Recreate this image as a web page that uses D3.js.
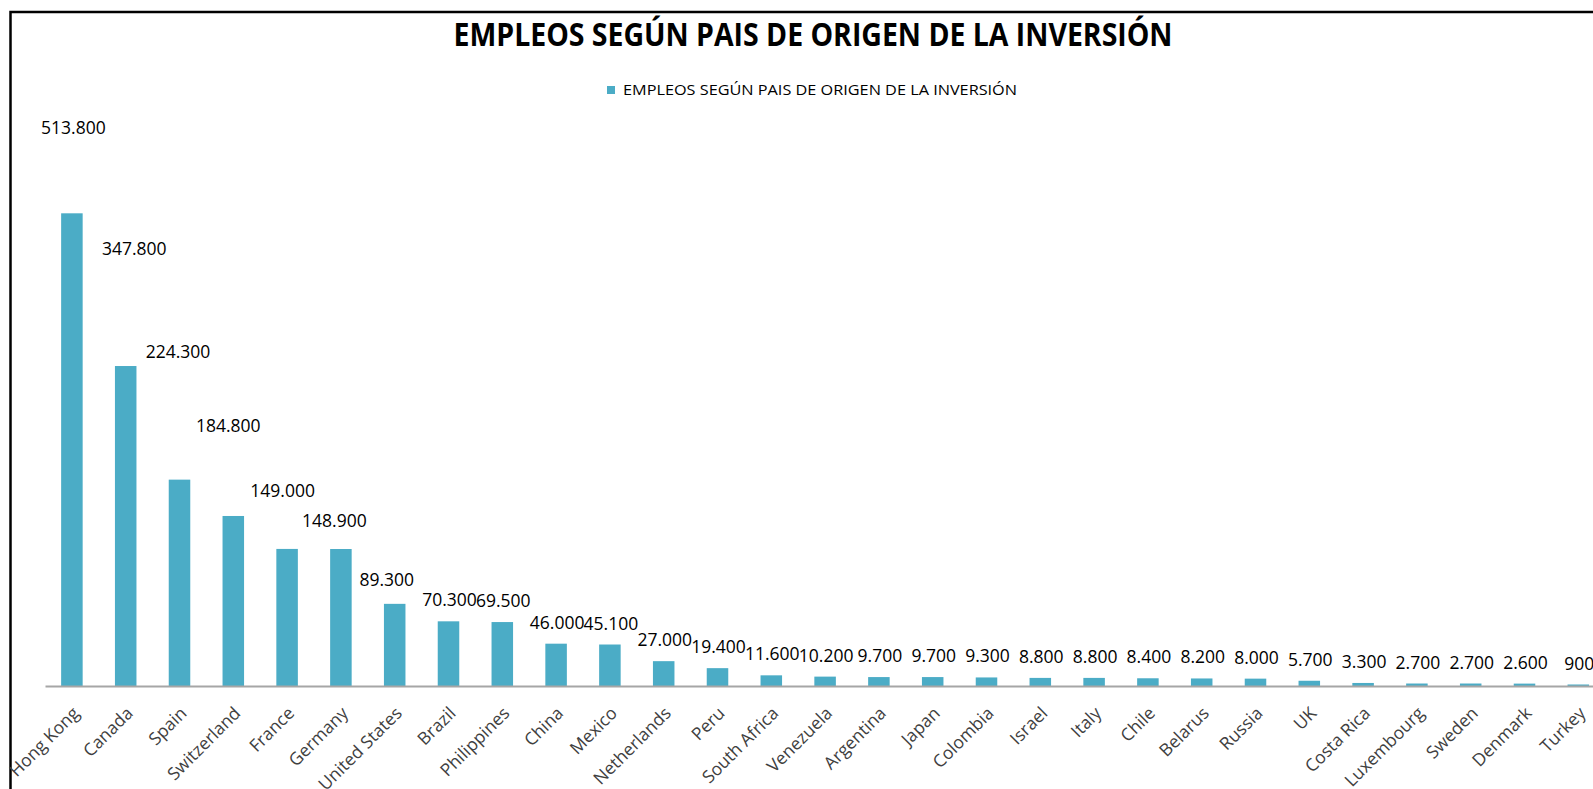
<!DOCTYPE html>
<html>
<head>
<meta charset="utf-8">
<script src="https://cdn.jsdelivr.net/npm/d3@7"></script>
<style>
  body { margin: 0; background: #fff; }
  svg { display: block; }
</style>
</head>
<body>
<div id="chart"></div>
<script>
var chartTitle = "EMPLEOS SEGÚN PAIS DE ORIGEN DE LA INVERSIÓN";
var seriesName = "EMPLEOS SEGÚN PAIS DE ORIGEN DE LA INVERSIÓN";

var countries = ["Hong Kong", "Canada", "Spain", "Switzerland", "France", "Germany",
    "United States", "Brazil", "Philippines", "China", "Mexico", "Netherlands", "Peru",
    "South Africa", "Venezuela", "Argentina", "Japan", "Colombia", "Israel", "Italy",
    "Chile", "Belarus", "Russia", "UK", "Costa Rica", "Luxembourg", "Sweden", "Denmark", "Turkey"];

var jobs = [513800, 347800, 224300, 184800, 149000, 148900, 89300, 70300, 69500, 46000,
    45100, 27000, 19400, 11600, 10200, 9700, 9700, 9300, 8800, 8800,
    8400, 8200, 8000, 5700, 3300, 2700, 2700, 2600, 900];

var yMax = 600000;

// the first data labels were dragged by hand in the original sheet
var labelLift = [64, 96, 107, 69, 37, 7, 3];
var labelShift = [1.5, 8.5, -1.5, -5, -4.5, -6.5, -8];

var w = 1593, h = 789;
var margin = { top: 134, left: 45, bottom: 686 };
var step = 53.8;

var es = d3.formatLocale({ decimal: ",", thousands: ".", grouping: [3], currency: ["", " €"] });
var fmt = es.format(",");

var svg = d3.select("#chart").append("svg")
    .attr("width", w)
    .attr("height", h);

svg.append("rect")
    .attr("width", w).attr("height", h)
    .attr("fill", "#fff");

// chart frame (runs off the right / bottom of the picture)
svg.append("rect")
    .attr("x", 10.5).attr("y", 12)
    .attr("width", 1700).attr("height", 900)
    .attr("fill", "none")
    .attr("stroke", "#000")
    .attr("stroke-width", 2.5);

svg.append("text")
    .attr("x", 813).attr("y", 46)
    .attr("text-anchor", "middle")
    .attr("font-family", "Open Sans")
    .attr("font-weight", "bold")
    .attr("font-size", "32px")
    .attr("textLength", 719)
    .attr("lengthAdjust", "spacingAndGlyphs")
    .attr("fill", "#000")
    .text(chartTitle);

// legend
var legend = svg.append("g").attr("transform", "translate(607,86)");
legend.append("rect")
    .attr("width", 8).attr("height", 8)
    .attr("fill", "#4BACC6");
legend.append("text")
    .attr("x", 16).attr("y", 9.3)
    .attr("font-family", "Open Sans")
    .attr("font-size", "14.5px")
    .attr("textLength", 394)
    .attr("lengthAdjust", "spacingAndGlyphs")
    .attr("fill", "#000")
    .text(seriesName);

var x = d3.scaleBand()
    .domain(countries)
    .range([margin.left, margin.left + countries.length * step])
    .paddingInner(0.6)
    .paddingOuter(0.3);

var y = d3.scaleLinear()
    .domain([0, yMax])
    .range([margin.bottom, margin.top]);

svg.selectAll("rect.bar")
    .data(jobs)
    .enter()
    .append("rect")
    .attr("class", "bar")
    .attr("x", function(d, i) { return x(countries[i]); })
    .attr("y", function(d) { return Math.min(y(d), margin.bottom - 1.5); })
    .attr("width", x.bandwidth())
    .attr("height", function(d) { return Math.max(margin.bottom - y(d), 1.5); })
    .attr("fill", "#4BACC6");

var xAxis = svg.append("g")
    .attr("transform", "translate(0," + margin.bottom + ")")
    .call(d3.axisBottom(x).tickSize(0).tickSizeOuter(0).tickPadding(0));

xAxis.select(".domain")
    .attr("stroke", "#A6A6A6")
    .attr("stroke-width", 2);

xAxis.selectAll(".tick text")
    .attr("font-family", "Open Sans")
    .attr("font-size", "17.5px")
    .attr("fill", "#404040")
    .attr("text-anchor", "end")
    .attr("y", 0)
    .attr("dy", "0.35em")
    .attr("transform", "translate(4,24) rotate(-45)");

// data labels
svg.selectAll("text.value")
    .data(jobs)
    .enter()
    .append("text")
    .attr("class", "value")
    .attr("x", function(d, i) {
        return x(countries[i]) + x.bandwidth() / 2 + (labelShift[i] || 1);
    })
    .attr("y", function(d, i) {
        return y(d) - 15 - (labelLift[i] || 0);
    })
    .attr("text-anchor", "middle")
    .attr("font-family", "Open Sans")
    .attr("font-size", "17.5px")
    .attr("fill", "#000")
    .text(function(d) { return fmt(d); });
</script>
</body>
</html>
